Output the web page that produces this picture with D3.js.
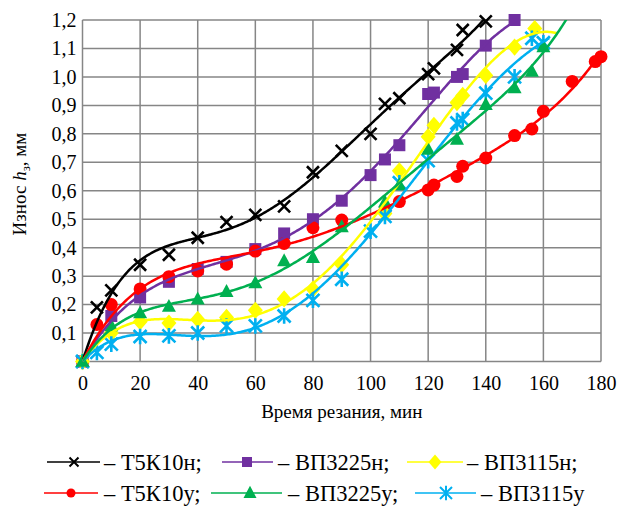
<!DOCTYPE html>
<html><head><meta charset="utf-8">
<script src="https://cdn.jsdelivr.net/npm/d3@7"></script>
<style>
html,body{margin:0;padding:0;background:#fff;}
svg, svg text{font-family:"Liberation Serif","Times New Roman",Tinos,Times,"DejaVu Serif","Noto Serif",serif;}
</style></head>
<body>
<svg id="chart" width="619" height="507"></svg>
<script>
// ---- data (time, min ; wear, mm) ----
const xTicks = [0,20,40,60,80,100,120,140,160,180];
const yTicks = [0.1,0.2,0.3,0.4,0.5,0.6,0.7,0.8,0.9,1.0,1.1,1.2];

const t5k10n = [[0,0],[5,0.19],[10,0.25],[20,0.34],[30,0.375],[40,0.435],[50,0.49],[60,0.515],[70,0.545],[80,0.665],[90,0.74],[100,0.80],[105,0.905],[110,0.925],[120,1.01],[122,1.03],[130,1.095],[132,1.165],[140,1.195]];
const vp3225n = [[0,0],[10,0.16],[20,0.225],[30,0.28],[40,0.325],[50,0.35],[60,0.395],[70,0.45],[80,0.5],[90,0.565],[100,0.655],[105,0.71],[110,0.76],[120,0.94],[122,0.945],[130,1.0],[132,1.01],[140,1.11],[150,1.2]];
const vp3115n = [[0,0],[10,0.1],[20,0.14],[30,0.135],[40,0.148],[50,0.155],[60,0.18],[70,0.22],[80,0.254],[90,0.34],[105,0.52],[110,0.67],[120,0.79],[122,0.83],[130,0.91],[132,0.935],[140,1.005],[150,1.105],[157,1.17]];
const t5k10u = [[0,0],[5,0.13],[10,0.2],[20,0.255],[30,0.298],[40,0.318],[50,0.342],[60,0.388],[70,0.415],[80,0.47],[90,0.497],[105,0.53],[110,0.562],[120,0.603],[122,0.62],[130,0.65],[132,0.686],[140,0.715],[150,0.794],[156,0.817],[160,0.879],[170,0.984],[178,1.054],[180,1.071]];
const vp3225u = [[0,0],[10,0.125],[20,0.17],[30,0.193],[40,0.219],[50,0.245],[60,0.276],[70,0.353],[80,0.365],[90,0.473],[105,0.56],[110,0.62],[120,0.745],[130,0.78],[140,0.902],[150,0.961],[156,1.019],[160,1.105]];
const vp3115u = [[0,0],[5,0.032],[10,0.061],[20,0.088],[30,0.09],[40,0.1],[50,0.125],[60,0.125],[70,0.16],[80,0.215],[90,0.289],[100,0.458],[105,0.51],[110,0.628],[120,0.706],[130,0.838],[132,0.85],[140,0.943],[150,1.0],[156,1.136],[160,1.12]];

const seriesNames = ["Т5К10н","ВП3225н","ВП3115н","Т5К10у","ВП3225у","ВП3115у"];
const seriesData = [t5k10n, vp3225n, vp3115n, t5k10u, vp3225u, vp3115u];
const seriesColors = ["#000000","#7030A0","#FFFF00","#FF0000","#00B050","#00B0F0"];
const seriesMarkers = ["times","square","diamond","circle","triangle","star"];
const trendOrder = [5,5,5,5,5,5];
const trendEnd = [145,155,165,180,175,162];

// ---- layout ----
const svg = d3.select("#chart");
const L = 82.5, R = 601, T = 20, B = 361.5;
const x = d3.scaleLinear().domain([0,180]).range([L,R]);
const y = d3.scaleLinear().domain([0,1.2]).range([B,T]);
const gridColor = "#868686";
const FONT = '"Liberation Serif","Times New Roman",Tinos,Times,"DejaVu Serif","Noto Serif",serif';

// grid
const g = svg.append("g");
g.selectAll(".vg").data(xTicks).join("line")
  .attr("x1",d=>x(d)).attr("x2",d=>x(d)).attr("y1",T).attr("y2",B)
  .attr("stroke",gridColor).attr("stroke-width",1.5);
g.selectAll(".hg").data([0].concat(yTicks)).join("line")
  .attr("x1",L).attr("x2",R).attr("y1",d=>y(d)).attr("y2",d=>y(d))
  .attr("stroke",gridColor).attr("stroke-width",1.5);

// axes labels via d3 axes (no lines)
const fmt = d => d3.format(".1f")(d).replace(".",",");
const xAxis = svg.append("g").attr("transform",`translate(0,${B})`)
  .call(d3.axisBottom(x).tickValues(xTicks).tickSize(0).tickPadding(14).tickFormat(d3.format("d")));
const yAxis = svg.append("g").attr("transform",`translate(${L},0)`)
  .call(d3.axisLeft(y).tickValues(yTicks).tickSize(0).tickPadding(6).tickFormat(fmt));
[xAxis,yAxis].forEach(a=>{
  a.attr("font-family",FONT).attr("font-size",20);
  a.select(".domain").remove();
  a.selectAll("text").style("font-family",FONT).attr("font-size",20).attr("fill","#000");
});

// axis titles
svg.append("text").attr("x",(L+R)/2).attr("y",418).attr("text-anchor","middle")
  .style("font-family",FONT).attr("font-size",19).text("Время резания, мин");
const yt = svg.append("text").attr("transform","translate(26,184) rotate(-90)")
  .style("font-family",FONT).attr("text-anchor","middle").attr("font-size",19);
yt.append("tspan").text("Износ ");
yt.append("tspan").attr("font-style","italic").text("h");
yt.append("tspan").attr("font-size",13).attr("dy",4).text("з");
yt.append("tspan").attr("dy",-4).text(", мм");

// ---- polynomial trend (least squares, zero intercept) ----
function polyfit(pts, order){
  const n = order;
  const A = Array.from({length:n},()=>new Array(n+1).fill(0));
  pts.forEach(([xv,yv])=>{
    const t = xv/100;
    const p = []; for(let k=1;k<=n;k++) p.push(Math.pow(t,k));
    for(let i=0;i<n;i++){ for(let j=0;j<n;j++) A[i][j]+=p[i]*p[j]; A[i][n]+=p[i]*yv; }
  });
  for(let i=0;i<n;i++){
    let m=i; for(let r=i+1;r<n;r++) if(Math.abs(A[r][i])>Math.abs(A[m][i])) m=r;
    [A[i],A[m]]=[A[m],A[i]];
    for(let r=0;r<n;r++){ if(r===i) continue; const f=A[r][i]/A[i][i]; for(let c=i;c<=n;c++) A[r][c]-=f*A[i][c]; }
  }
  const coef = A.map((row,i)=>row[n]/row[i]);
  return xv => { const t=xv/100; let s=0; coef.forEach((c,k)=>s+=c*Math.pow(t,k+1)); return s; };
}

svg.append("clipPath").attr("id","plotclip").append("rect")
  .attr("x",L).attr("y",T).attr("width",R-L).attr("height",B-T);

function markerPath(type, s){
  const h=s/2;
  switch(type){
    case "times": return `M${-h},${-h}L${h},${h}M${-h},${h}L${h},${-h}`;
    case "star": return `M${-h},${-h}L${h},${h}M${-h},${h}L${h},${-h}M0,${-h*1.2}L0,${h*1.2}`;
    case "square": return `M${-h},${-h}H${h}V${h}H${-h}Z`;
    case "diamond": return `M0,${-h*1.15}L${h},0L0,${h*1.15}L${-h},0Z`;
    case "triangle": return `M0,${-h*1.1}L${h},${h*0.75}L${-h},${h*0.75}Z`;
    case "circle": return d3.symbol(d3.symbolCircle, Math.PI*h*h)();
  }
}
function drawMarker(sel, type, color, s, sw){
  const stroked = (type==="times"||type==="star");
  sel.append("path").attr("d",markerPath(type,s))
    .attr("fill",stroked?"none":color)
    .attr("stroke",stroked?color:"none")
    .attr("stroke-width",stroked?sw:0);
}
const markerSize = {times:12,star:13,square:12,diamond:15,triangle:14,circle:13};

const drawOrder = [0,1,3,2,5,4];
const lineGen = d3.line().x(d=>x(d[0])).y(d=>y(d[1]));
const markerLayer = svg.append("g");
const curveLayer = svg.append("g").attr("clip-path","url(#plotclip)");
drawOrder.forEach(i=>{
  const f = polyfit(seriesData[i], trendOrder[i]);
  const xs = d3.range(0,trendEnd[i]+0.25,0.5);
  markerLayer.selectAll(null).data(seriesData[i]).join("g")
    .attr("transform",d=>`translate(${x(d[0])},${y(d[1])})`)
    .each(function(){ drawMarker(d3.select(this), seriesMarkers[i], seriesColors[i], markerSize[seriesMarkers[i]], 2.6); });
  curveLayer.append("path").datum(xs.map(v=>[v,f(v)]))
    .attr("d",lineGen).attr("fill","none").attr("stroke",seriesColors[i]).attr("stroke-width",2.5);
});

// ---- legend ----
const legendRows = [[0,1,2],[3,4,5]];
const legendPos = [
  [[47,100,74,104],[222,273,247,278],[407,463,435,467]],
  [[44,98,71,104],[211,282,250,288],[415,476,446,481]]
];
const legendY = [462,493];
const legendSize = {times:9,star:12,square:10,diamond:13,triangle:13,circle:9};
legendRows.forEach((row,ri)=>{
  row.forEach((si,ci)=>{
    const [x1,x2,mx,tx] = legendPos[ri][ci];
    const lg = svg.append("g");
    lg.append("line").attr("x1",x1).attr("x2",x2).attr("y1",legendY[ri]).attr("y2",legendY[ri])
      .attr("stroke",seriesColors[si]).attr("stroke-width",1.5);
    const mg = lg.append("g").attr("transform",`translate(${mx},${legendY[ri]})`);
    drawMarker(mg, seriesMarkers[si], seriesColors[si], legendSize[seriesMarkers[si]], 2);
    lg.append("text").attr("x",tx).attr("y",legendY[ri]+7.5).style("font-family",FONT).attr("font-size",22.5)
      .text("– " + seriesNames[si] + (si===5?"":";"));
  });
});
</script>
</body></html>
